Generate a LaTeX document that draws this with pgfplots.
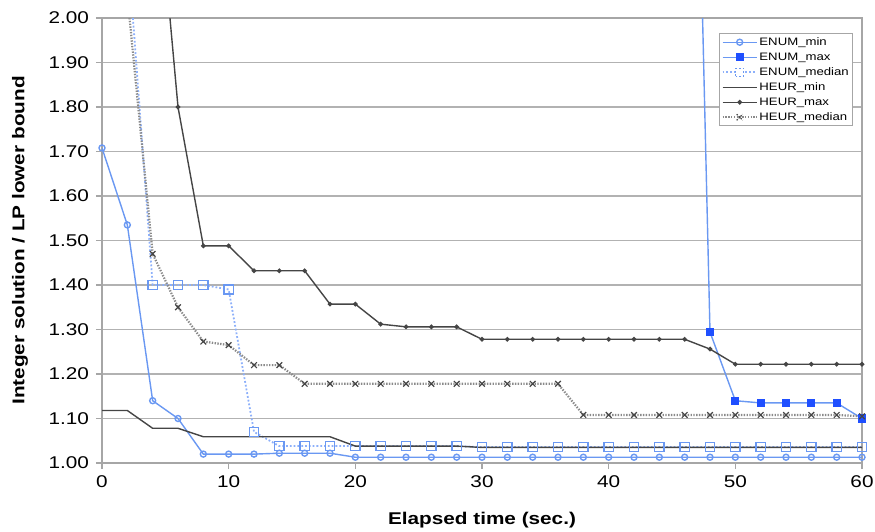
\documentclass[border=0pt]{standalone}
\usepackage{fontspec}
\setmainfont{Liberation Sans}[FakeStretch=1.22]
\usepackage{pgfplots}
\pgfplotsset{compat=1.18}

\definecolor{enumblue}{HTML}{6A98F2}
\definecolor{enummax}{HTML}{1F4FFF}
\definecolor{enummed}{HTML}{8DB0FA}
\definecolor{heurdark}{HTML}{454545}
\definecolor{heurmed}{HTML}{8A8A8A}

\begin{document}
\begin{tikzpicture}
\begin{axis}[
  name=ax,
  scale only axis,
  width=380pt, height=222.5pt,
  xmin=0, xmax=60, ymin=1, ymax=2,
  xtick={0,10,20,30,40,50,60},
  ytick={1.0,1.1,1.2,1.3,1.4,1.5,1.6,1.7,1.8,1.9,2.0},
  yticklabel style={/pgf/number format/.cd,fixed,fixed zerofill,precision=2},
  /pgf/number format/assume math mode=true,
  ymajorgrids=true,
  grid style={gray!60, line width=0.6pt},
  axis line style={gray!70, line width=0.6pt},
  tick style={gray!70, line width=0.6pt},
  tick align=outside,
  major tick length=3pt,
  tick pos=left,
  ticklabel style={font=\fontsize{8.5}{10}\selectfont},
  xlabel={Elapsed time (sec.)},
  ylabel={Integer solution / LP lower bound},
  label style={font=\bfseries\fontsize{8.5}{10}\selectfont},
  xlabel style={at={(axis description cs:0.5,-0.128)}, anchor=center},
  ylabel style={at={(axis description cs:-0.108,0.5)}, anchor=center},
  legend style={at={(0.988,0.966)}, anchor=north east,
    draw=gray!70, fill=white, line width=0.5pt,
    font=\fontsize{5.4}{6}\selectfont, inner sep=1pt,
    row sep=0.9pt,
    nodes={inner sep=0.8pt, text height=3.9pt, text depth=1.1pt}},
  legend cell align=left,
]
% ENUM_min
\addplot[color=enumblue, line width=0.7pt, mark=o, mark size=1.5pt,
  mark options={fill=white, solid}] coordinates {
  (0,1.708) (2,1.535) (4,1.140) (6,1.100) (8,1.020) (10,1.020) (12,1.020)
  (14,1.022) (16,1.022) (18,1.022) (20,1.013) (22,1.013) (24,1.013) (26,1.013)
  (28,1.013) (30,1.013) (32,1.013) (34,1.013) (36,1.013) (38,1.013) (40,1.013)
  (42,1.013) (44,1.013) (46,1.013) (48,1.013) (50,1.013) (52,1.013) (54,1.013)
  (56,1.013) (58,1.013) (60,1.013)};
\addlegendentry{ENUM\_min}
% ENUM_max
\addplot[color=enumblue, line width=0.7pt, mark=square*, mark size=1.7pt,
  mark options={fill=enummax, draw=enummax, solid}, mark indices={1,2,3,4,5,6,7},
  legend image code/.code={
    \draw[enumblue, line width=0.7pt] (0cm,0cm) -- (0.6cm,0cm);
    \fill[enummax] (0.3cm,0cm) ++(-1.7pt,-1.7pt) rectangle ++(3.4pt,3.4pt);}] coordinates {
  (46,3.70) (48,1.294) (50,1.140) (52,1.135) (54,1.135) (56,1.135) (58,1.135) (60,1.100)};
\addlegendentry{ENUM\_max}
% ENUM_median
\addplot[color=enummed, line width=0.9pt, densely dotted, mark=square, mark size=2.3pt,
  mark options={fill=white, draw=enumblue, solid, line width=0.7pt},
  mark indices={1,2,...,29},
  legend image code/.code={
    \draw[enummed, line width=0.9pt, densely dotted] (0cm,0cm) -- (0.6cm,0cm);
    \draw[enumblue, fill=white, line width=0.7pt] (0.3cm,0cm) ++(-2pt,-2pt) rectangle ++(4pt,4pt);}] coordinates {
  (2,2.170) (4,1.400) (6,1.400) (8,1.400) (10,1.390) (12,1.070) (14,1.038)
  (16,1.038) (18,1.038) (20,1.038) (22,1.038) (24,1.038) (26,1.038) (28,1.038)
  (30,1.036) (32,1.036) (34,1.036) (36,1.036) (38,1.036) (40,1.036) (42,1.036)
  (44,1.036) (46,1.036) (48,1.036) (50,1.036) (52,1.036) (54,1.036) (56,1.036)
  (58,1.036) (60,1.036)};
\addlegendentry{ENUM\_median}
% HEUR_min
\addplot[color=heurdark, line width=0.7pt, mark=none] coordinates {
  (0,1.118) (2,1.118) (4,1.078) (6,1.078) (8,1.059) (10,1.059) (12,1.059)
  (14,1.059) (16,1.059) (18,1.059) (20,1.038) (22,1.038) (24,1.038) (26,1.038)
  (28,1.038) (30,1.035) (32,1.035) (34,1.035) (36,1.035) (38,1.035) (40,1.035)
  (42,1.035) (44,1.035) (46,1.035) (48,1.035) (50,1.035) (52,1.035) (54,1.035)
  (56,1.035) (58,1.035) (60,1.035)};
\addlegendentry{HEUR\_min}
% HEUR_max
\addplot[color=heurdark, line width=0.7pt, mark=*, mark size=0.8pt,
  mark options={solid}, mark indices={1,2,...,28},
  legend image code/.code={
    \draw[heurdark, line width=0.7pt] (0cm,0cm) -- (0.6cm,0cm);
    \fill[heurdark] (0.3cm,0cm) circle[radius=0.8pt];}] coordinates {
  (4,2.430) (6,1.800) (8,1.488) (10,1.488) (12,1.432) (14,1.432) (16,1.432)
  (18,1.357) (20,1.357) (22,1.312) (24,1.306) (26,1.306) (28,1.306) (30,1.278)
  (32,1.278) (34,1.278) (36,1.278) (38,1.278) (40,1.278) (42,1.278) (44,1.278)
  (46,1.278) (48,1.256) (50,1.222) (52,1.222) (54,1.222) (56,1.222) (58,1.222)
  (60,1.222)};
\addlegendentry{HEUR\_max}
% HEUR_median
\addplot[color=heurmed, line width=1.1pt, dash pattern=on 0.7pt off 0.7pt, mark=x, mark size=2pt,
  mark options={solid, draw=heurdark, line width=0.6pt}, mark indices={1,2,...,29},
  legend image code/.code={
    \draw[heurmed, line width=1.1pt, dash pattern=on 0.7pt off 0.7pt] (0cm,0cm) -- (0.6cm,0cm);
    \draw[heurdark, line width=0.6pt] (0.3cm,0cm) ++(-1.5pt,-1.5pt) -- ++(3pt,3pt)
      (0.3cm,0cm) ++(-1.5pt,1.5pt) -- ++(3pt,-3pt);}] coordinates {
  (2,2.050) (4,1.470) (6,1.350) (8,1.273) (10,1.265) (12,1.220) (14,1.220)
  (16,1.178) (18,1.178) (20,1.178) (22,1.178) (24,1.178) (26,1.178) (28,1.178)
  (30,1.178) (32,1.178) (34,1.178) (36,1.178) (38,1.108) (40,1.108) (42,1.108)
  (44,1.108) (46,1.108) (48,1.108) (50,1.108) (52,1.108) (54,1.108) (56,1.108)
  (58,1.108) (60,1.105)};
\addlegendentry{HEUR\_median}
\end{axis}
\pgfresetboundingbox
\useasboundingbox ([xshift=-51pt,yshift=-34pt]ax.south west) rectangle ([xshift=6.5pt,yshift=9pt]ax.north east);
\end{tikzpicture}
\end{document}
